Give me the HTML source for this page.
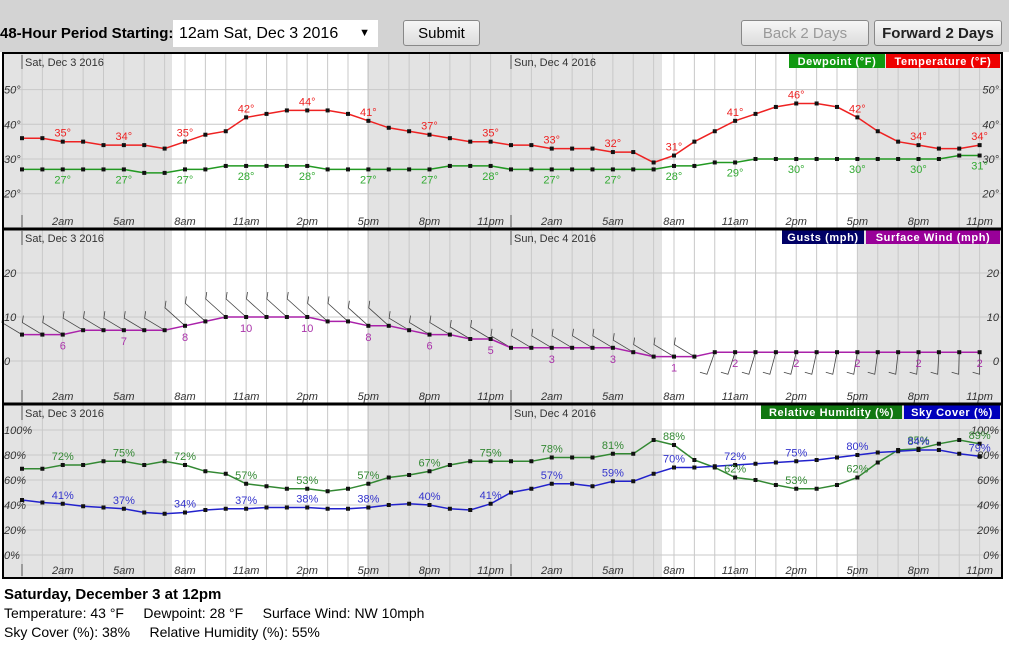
<!DOCTYPE html>
<html><head><meta charset="utf-8"><style>
body{margin:0;width:1009px;height:652px;overflow:hidden;background:#fff;font-family:"Liberation Sans",Arial,sans-serif;}
#top{position:absolute;left:0;top:0;width:1009px;height:52px;background:#d3d3d3;}
.lbl{position:absolute;left:0;top:25px;font-weight:bold;font-size:15px;}
.sel{position:absolute;left:173px;top:20px;width:205px;height:27px;background:#fff;font-size:16px;line-height:27px;box-sizing:border-box;padding-left:6px;}
.btn{position:absolute;top:20px;height:26px;border:1px solid #888;border-radius:3px;background:linear-gradient(#f6f6f6,#dcdcdc);font-size:15px;text-align:center;line-height:26px;box-sizing:border-box;}
#info{position:absolute;left:4px;top:585px;font-size:14px;line-height:19px;}
</style></head><body>
<div id="top">
<div class="lbl">48-Hour Period Starting:</div>
<div class="sel">12am Sat, Dec 3 2016<span style="position:absolute;right:8px;font-size:11px">▼</span></div>
<div class="btn" style="left:403px;width:77px">Submit</div>
<div class="btn" style="left:741px;width:128px;color:#999">Back 2 Days</div>
<div class="btn" style="left:874px;width:128px;font-weight:bold;color:#222">Forward 2 Days</div>
</div>
<svg id="c" width="1009" height="652" style="position:absolute;left:0;top:0"></svg>
<div id="info"><b style="font-size:15px">Saturday, December 3 at 12pm</b><br>Temperature: 43 °F &nbsp;&nbsp;&nbsp; Dewpoint: 28 °F &nbsp;&nbsp;&nbsp; Surface Wind: NW 10mph<br>Sky Cover (%): 38% &nbsp;&nbsp;&nbsp; Relative Humidity (%): 55%</div>
<script>
var s='',X=function(h){return 22+h*20.375;};
function t(x,y,str,col,anc,extra){s+='<text x="'+x+'" y="'+y+'" fill="'+col+'" text-anchor="'+(anc||'start')+'" font-size="11" '+(extra||'')+'>'+str+'</text>';}
var panels=[[53,229],[229,404],[404,578]];
var hrs=['2am','5am','8am','11am','2pm','5pm','8pm','11pm'];
panels.forEach(function(p,i){
 s+='<rect x="3" y="'+p[0]+'" width="999" height="'+(p[1]-p[0])+'" fill="#e3e3e3"/>';
 s+='<rect x="172" y="'+p[0]+'" width="195" height="'+(p[1]-p[0])+'" fill="#fff"/>';
 s+='<rect x="662" y="'+p[0]+'" width="195" height="'+(p[1]-p[0])+'" fill="#fff"/>';
 for(var h=0;h<48;h++){var x=X(h);s+='<line x1="'+x+'" y1="'+p[0]+'" x2="'+x+'" y2="'+p[1]+'" stroke="#c8c8c8"/>';}
 s+='<line x1="22" y1="'+(p[0]+2)+'" x2="22" y2="'+(p[0]+16)+'" stroke="#555"/><line x1="511" y1="'+(p[0]+2)+'" x2="511" y2="'+(p[0]+16)+'" stroke="#555"/>';
 s+='<line x1="22" y1="'+(p[1]-14)+'" x2="22" y2="'+(p[1]-2)+'" stroke="#555"/><line x1="511" y1="'+(p[1]-14)+'" x2="511" y2="'+(p[1]-2)+'" stroke="#555"/>';
 t(25,p[0]+13,'Sat, Dec 3 2016','#333');t(514,p[0]+13,'Sun, Dec 4 2016','#333');
 for(var d=0;d<2;d++)hrs.forEach(function(l,k){t(X(2+3*k+24*d),p[1]-4,l,'#333','middle','font-style="italic"');});
});
function hl(y){s+='<line x1="3" y1="'+y+'" x2="1002" y2="'+y+'" stroke="#c8c8c8"/>';}
function series(vals,fy,col){var pts=vals.map(function(v,h){return X(h)+','+fy(v).toFixed(1);}).join(' ');
 s+='<polyline points="'+pts+'" fill="none" stroke="'+col+'" stroke-width="1.5"/>';
 vals.forEach(function(v,h){s+='<rect x="'+(X(h)-2)+'" y="'+(fy(v)-2)+'" width="4" height="4" fill="#111"/>';});}
function legend(y,items){items.forEach(function(it){s+='<rect x="'+it[0]+'" y="'+y+'" width="'+it[1]+'" height="14" fill="'+it[2]+'"/>';t(it[0]+it[1]/2,y+11,it[3],'#fff','middle','font-weight="bold" letter-spacing="0.6"');});}
var fT=function(v){return 159+(30-v)*3.47;};
[20,30,40,50].forEach(function(v){hl(fT(v));t(4,fT(v)+4,v+'°','#333','start','font-style="italic"');t(999,fT(v)+4,v+'°','#333','end','font-style="italic"');});
var T=[36,36,35,35,34,34,34,33,35,37,38,42,43,44,44,44,43,41,39,38,37,36,35,35,34,34,33,33,33,32,32,29,31,35,38,41,43,45,46,46,45,42,38,35,34,33,33,34];
var D=[27,27,27,27,27,27,26,26,27,27,28,28,28,28,28,27,27,27,27,27,27,28,28,28,27,27,27,27,27,27,27,27,28,28,29,29,30,30,30,30,30,30,30,30,30,30,31,31];
series(D,fT,'#229922');series(T,fT,'#ee2222');
for(var h=2;h<48;h+=3){t(X(h),fT(T[h])-5,T[h]+'°','#ee2222','middle');t(X(h),fT(D[h])+14,D[h]+'°','#33aa33','middle');}
legend(54,[[789,96,'#119911','Dewpoint (°F)'],[886,114,'#ee0000','Temperature (°F)']]);
var fW=function(v){return 361-v*4.4;};
[0,10,20].forEach(function(v){hl(fW(v));t(4,fW(v)+4,v,'#333','start','font-style="italic"');t(999,fW(v)+4,v,'#333','end','font-style="italic"');});
var W=[6,6,6,7,7,7,7,7,8,9,10,10,10,10,10,9,9,8,8,7,6,6,5,5,3,3,3,3,3,3,2,1,1,1,2,2,2,2,2,2,2,2,2,2,2,2,2,2];
W.forEach(function(v,h){var x=X(h),y=fW(v);
 if(h<34){var dx=-20,dy=-12-(v>=8?6:0);s+='<polyline points="'+x+','+y+' '+(x+dx)+','+(y+dy)+' '+(x+dx+1)+','+(y+dy-7)+'" fill="none" stroke="#444" stroke-width="0.8"/>';}
 else{var dx=-(47-h)*0.6,dy=22;s+='<polyline points="'+x+','+y+' '+(x+dx)+','+(y+dy)+' '+(x+dx-7)+','+(y+dy-2)+'" fill="none" stroke="#444" stroke-width="0.8"/>';}
});
series(W,fW,'#aa22aa');
for(var h=2;h<48;h+=3)t(X(h),fW(W[h])+15,W[h],'#aa33aa','middle','font-size="12"');
legend(230,[[782,82,'#000066','Gusts (mph)'],[866,134,'#990099','Surface Wind (mph)']]);
var fR=function(v){return 555-v*1.25;};
[0,20,40,60,80,100].forEach(function(v){hl(fR(v));t(4,fR(v)+4,v+'%','#333','start','font-style="italic"');t(999,fR(v)+4,v+'%','#333','end','font-style="italic"');});
var R=[69,69,72,72,75,75,72,75,72,67,65,57,55,53,53,51,53,57,62,64,67,72,75,75,75,75,78,78,78,81,81,92,88,76,70,62,60,56,53,53,56,62,74,84,85,89,92,89];
var S=[44,42,41,39,38,37,34,33,34,36,37,37,38,38,38,37,37,38,40,41,40,37,36,41,50,53,57,57,55,55,59,65,68,70,71,72,73,74,75,76,78,80,82,83,84,84,81,79];
S[32]=70;S[29]=59;
series(R,fR,'#338833');series(S,fR,'#2222cc');
for(var h=2;h<48;h+=3){t(X(h),fR(R[h])-5,R[h]+'%','#338833','middle','font-size="12"');t(X(h),fR(S[h])-5,S[h]+'%','#3333cc','middle','font-size="12"');}
legend(405,[[761,141,'#117711','Relative Humidity (%)'],[904,96,'#0000bb','Sky Cover (%)']]);
s+='<rect x="3" y="53" width="999" height="525" fill="none" stroke="#000" stroke-width="2"/>';
s+='<line x1="3" y1="229" x2="1002" y2="229" stroke="#000" stroke-width="3"/><line x1="3" y1="404" x2="1002" y2="404" stroke="#000" stroke-width="3"/>';
document.getElementById('c').innerHTML=s;
</script>
</body></html>
